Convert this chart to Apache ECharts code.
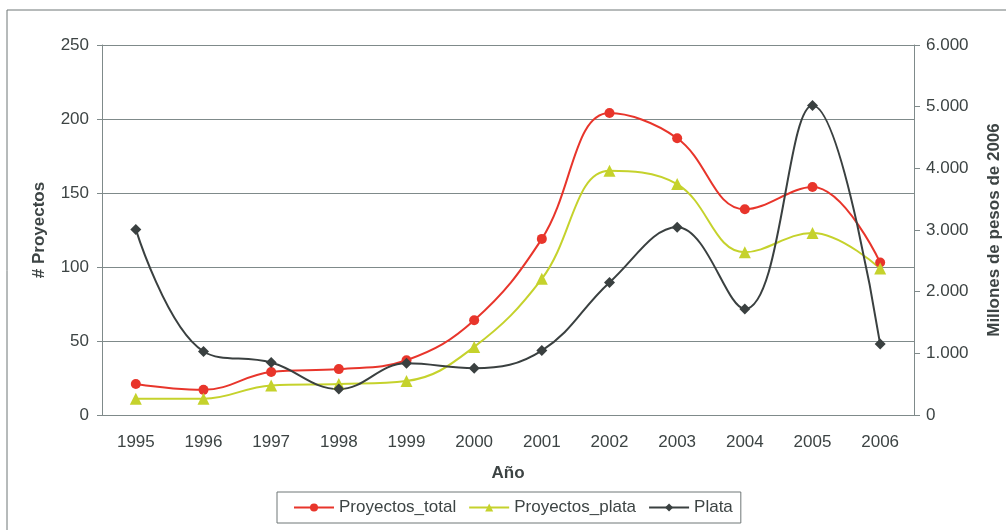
<!DOCTYPE html>
<html>
<head>
<meta charset="utf-8">
<script src="https://cdn.jsdelivr.net/npm/echarts@6/dist/echarts.min.js"></script>
<style>
  html, body { margin: 0; padding: 0; background: #fff; }
  #chart { width: 1006px; height: 530px; }
</style>
</head>
<body>
<div id="chart"></div>
<script>
// datos
const years = ['1995', '1996', '1997', '1998', '1999', '2000', '2001', '2002', '2003', '2004', '2005', '2006'];
const proyectosTotal = [21, 17, 29, 31, 37, 64, 119, 204, 187, 139, 154, 103];
const proyectosPlata = [11, 11, 20, 21, 23, 46, 92, 165, 156, 110, 123, 99];
const plata = [3010, 1030, 850, 420, 840, 760, 1045, 2150, 3045, 1720, 5020, 1150];
const leftTicks = [0, 250, 50];
const rightTicks = [0, 6000, 1000];

const fam = 'Liberation Sans, Arial, sans-serif';
const axisText = { color: '#3d4444', fontSize: 17, fontFamily: fam };
const nameText = { color: '#3d4444', fontSize: 17, fontWeight: 'bold', fontFamily: fam };
const lineCol = '#7f8a8a';

const chart = echarts.init(document.getElementById('chart'));
chart.setOption({
  animation: false,
  backgroundColor: '#fff',
  graphic: [{
    type: 'rect',
    shape: { x: 7, y: 10, width: 1010, height: 540 },
    style: { fill: 'none', stroke: '#6f7777', lineWidth: 1 },
    silent: true
  }],
  grid: { left: 102, top: 45, right: 92, bottom: 115, outerBoundsMode: 'none', containLabel: false },
  legend: {
    data: ['Proyectos_total', 'Proyectos_plata', 'Plata'],
    bottom: 7,
    left: 277,
    itemWidth: 40,
    itemHeight: 10,
    itemGap: 12,
    padding: [7, 8, 7, 16],
    borderColor: '#6f7777',
    borderWidth: 1,
    borderRadius: 0,
    textStyle: { color: '#3d4444', fontSize: 17, fontFamily: fam }
  },
  xAxis: {
    type: 'category',
    data: years,
    boundaryGap: true,
    name: 'Año',
    nameLocation: 'middle',
    nameGap: 50,
    nameTextStyle: nameText,
    axisLine: { lineStyle: { color: lineCol } },
    axisTick: { inside: true, length: 7, lineStyle: { color: lineCol } },
    axisLabel: Object.assign({ margin: 19 }, axisText)
  },
  yAxis: [{
    type: 'value',
    min: leftTicks[0],
    max: leftTicks[1],
    interval: leftTicks[2],
    name: '# Proyectos',
    nameLocation: 'middle',
    nameGap: 54,
    nameTextStyle: nameText,
    axisLine: { show: true, lineStyle: { color: lineCol } },
    axisTick: { show: true, length: 5, lineStyle: { color: lineCol } },
    splitLine: { lineStyle: { color: lineCol, width: 1 } },
    axisLabel: Object.assign({ margin: 13 }, axisText)
  }, {
    type: 'value',
    position: 'right',
    min: rightTicks[0],
    max: rightTicks[1],
    interval: rightTicks[2],
    name: 'Millones de pesos de 2006',
    nameLocation: 'middle',
    nameGap: 72,
    nameTextStyle: nameText,
    axisLine: { show: true, lineStyle: { color: lineCol } },
    axisTick: { show: true, length: 6, lineStyle: { color: lineCol } },
    splitLine: { show: false },
    axisLabel: Object.assign({
      margin: 12,
      formatter: v => v === 0 ? '0' : (v / 1000) + '.000'
    }, axisText)
  }],
  series: [{
    name: 'Proyectos_total',
    type: 'line',
    yAxisIndex: 0,
    data: proyectosTotal,
    smooth: 0.4,
    symbol: 'circle',
    symbolSize: 10,
    lineStyle: { color: '#e8352b', width: 2 },
    itemStyle: { color: '#e8352b' }
  }, {
    name: 'Proyectos_plata',
    type: 'line',
    yAxisIndex: 0,
    data: proyectosPlata,
    smooth: 0.4,
    symbol: 'triangle',
    symbolSize: 12,
    lineStyle: { color: '#c5d22c', width: 2 },
    itemStyle: { color: '#c5d22c' }
  }, {
    name: 'Plata',
    type: 'line',
    yAxisIndex: 1,
    data: plata,
    smooth: 0.4,
    symbol: 'diamond',
    symbolSize: 11,
    lineStyle: { color: '#3a4040', width: 2 },
    itemStyle: { color: '#3a4040' }
  }]
});
</script>
</body>
</html>
